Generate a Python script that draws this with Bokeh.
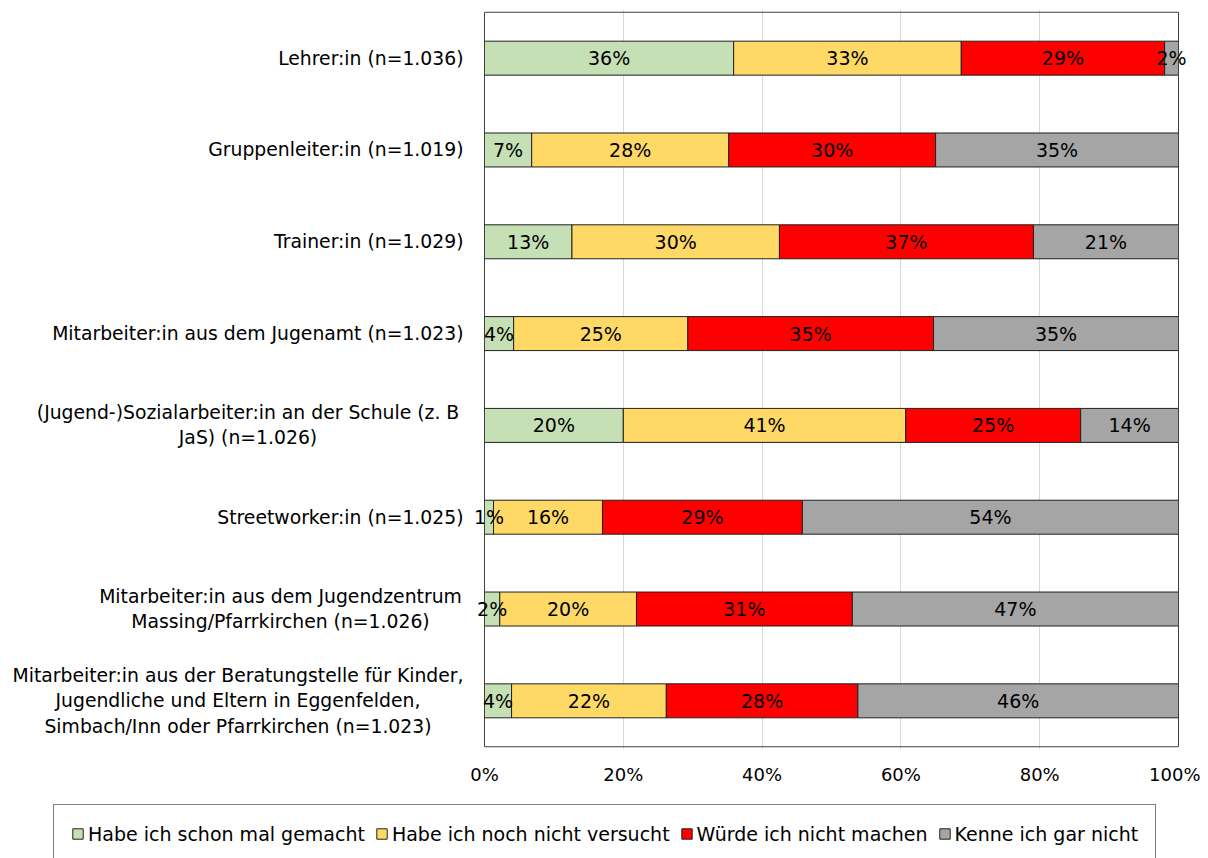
from bokeh.plotting import figure
from bokeh.layouts import column
from bokeh.models import (ColumnDataSource, FactorRange, Range1d, FixedTicker,
                          PrintfTickFormatter, Label, LabelSet, Legend, LegendItem)
from bokeh.core.properties import value
from bokeh.embed import file_html
from bokeh.resources import INLINE

categories = [
    "Lehrer:in (n=1.036)",
    "Gruppenleiter:in (n=1.019)",
    "Trainer:in (n=1.029)",
    "Mitarbeiter:in aus dem Jugenamt (n=1.023)",
    "(Jugend-)Sozialarbeiter:in an der Schule (z. B\nJaS) (n=1.026)",
    "Streetworker:in (n=1.025)",
    "Mitarbeiter:in aus dem Jugendzentrum\nMassing/Pfarrkirchen (n=1.026)",
    "Mitarbeiter:in aus der Beratungstelle für Kinder,\nJugendliche und Eltern in Eggenfelden,\nSimbach/Inn oder Pfarrkirchen (n=1.023)",
]
series_names = ["Habe ich schon mal gemacht", "Habe ich noch nicht versucht",
                "Würde ich nicht machen", "Kenne ich gar nicht"]
gemacht = [35.9, 6.8, 12.6, 4.2, 20.0, 1.3, 2.2, 3.9]
nicht_versucht = [32.8, 28.4, 29.9, 25.1, 40.7, 15.7, 19.7, 22.3]
nicht_machen = [29.3, 29.8, 36.6, 35.4, 25.2, 28.8, 31.1, 27.6]
kenne_nicht = [2.0, 35.0, 20.9, 35.3, 14.1, 54.2, 47.0, 46.2]
tick_values = [0, 20, 40, 60, 80, 100]

colors = ["#C5E0B4", "#FFD966", "#FF0000", "#A5A5A5"]
keys = ["s0", "s1", "s2", "s3"]
series_values = [gemacht, nicht_versucht, nicht_machen, kenne_nicht]

FONT = "DejaVu Sans"
W, H_MAIN, H_LEG = 1200, 800, 58
PLOT_LEFT, PLOT_RIGHT = 484.0, 1178.0   # canvas px of 0% and 100%
px_per_unit = (PLOT_RIGHT - PLOT_LEFT) / 100.0

source = ColumnDataSource(dict(cat=categories, s0=gemacht, s1=nicht_versucht,
                               s2=nicht_machen, s3=kenne_nicht))

factors = categories[::-1]
p = figure(width=W, height=H_MAIN, output_backend="svg", toolbar_location=None,
           y_range=FactorRange(factors=factors, range_padding=0.03,
                               range_padding_units="absolute"),
           x_range=Range1d(-PLOT_LEFT / px_per_unit, 100 + (W - PLOT_RIGHT) / px_per_unit),
           y_axis_location=None,
           min_border_left=0, min_border_right=0, min_border_top=9,
           min_border_bottom=51)
p.background_fill_color = "white"
p.border_fill_color = "white"
p.outline_line_color = None

renderers = p.hbar_stack(keys, y="cat", height=0.37, color=colors, source=source,
                         line_color="#202020", line_width=1)

# plot-area border (0..100 %, all categories)
p.quad(left=[0], right=[100], bottom=[0], top=[len(categories)],
       fill_color=None, line_color="#404040", line_width=1)

# data labels
lx, ly, lt = [], [], []
for i, cat in enumerate(categories):
    left = 0.0
    for vals in series_values:
        v = vals[i]
        lx.append(left + v / 2.0)
        ly.append(cat)
        lt.append(f"{v:.0f}%")
        left += v
lab_src = ColumnDataSource(dict(x=lx, y=ly, text=lt))
p.add_layout(LabelSet(x="x", y="y", text="text", source=lab_src,
                      text_align="center", text_baseline="middle",
                      text_font=value(FONT), text_font_size="19px",
                      text_color="#000000"))

# category labels (numeric synthetic coordinate of each factor's centre)
centers = {4: 247.5, 6: 280.0, 7: 237.5}
for i, cat in enumerate(categories):
    yc = factors.index(cat) + 0.5
    if i in centers:
        lab = Label(x=centers[i], y=yc, x_units="screen", text=cat,
                    text_align="center", text_baseline="middle",
                    text_font=FONT, text_font_size="18.8px", text_color="#000000",
                    text_line_height=1.2)
    else:
        lab = Label(x=463, y=yc, x_units="screen", text=cat,
                    text_align="right", text_baseline="middle",
                    text_font=FONT, text_font_size="18.8px", text_color="#000000")
    p.add_layout(lab)

# axes and grid
p.xaxis.ticker = FixedTicker(ticks=tick_values)
p.xaxis.formatter = PrintfTickFormatter(format="%d%%")
p.xaxis.major_label_text_font = FONT
p.xaxis.major_label_text_font_size = "18px"
p.xaxis.major_label_text_color = "#000000"
p.xaxis.major_label_standoff = 14
p.xaxis.major_tick_in = 0
p.xaxis.major_tick_out = 0
p.xaxis.minor_tick_in = 0
p.xaxis.minor_tick_out = 0
p.xaxis.axis_line_color = None
p.xgrid.ticker = FixedTicker(ticks=tick_values[1:-1])
p.xgrid.grid_line_color = "#D9D9D9"
p.ygrid.visible = False

# legend figure (own glyphs with the series colours, drawn outside its view)
pl = figure(width=W, height=H_LEG, output_backend="svg", toolbar_location=None,
            x_range=Range1d(0, 1), y_range=Range1d(0, 1),
            x_axis_location=None, y_axis_location=None,
            min_border_left=0, min_border_right=0, min_border_top=0, min_border_bottom=0)
pl.outline_line_color = None
pl.border_fill_color = "white"
pl.xgrid.visible = False
pl.ygrid.visible = False
items = []
for name, col in zip(series_names, colors):
    r = pl.hbar(y=[-10], left=[0], right=[1], height=0.1, fill_color=col,
                line_color="#202020", line_width=1)
    items.append(LegendItem(label=name, renderers=[r]))
legend = Legend(items=items, location=(53, -5), orientation="horizontal",
                label_text_font=FONT, label_text_font_size="19px",
                label_text_color="#000000", label_height=23,
                glyph_width=13, glyph_height=13, label_standoff=4, spacing=10,
                padding=17, margin=0, border_line_color="#000000", border_line_width=1,
                background_fill_color="white", background_fill_alpha=1)
pl.add_layout(legend, "center")

layout = column(p, pl, spacing=0)
open("out.html", "w").write(file_html(layout, INLINE))
